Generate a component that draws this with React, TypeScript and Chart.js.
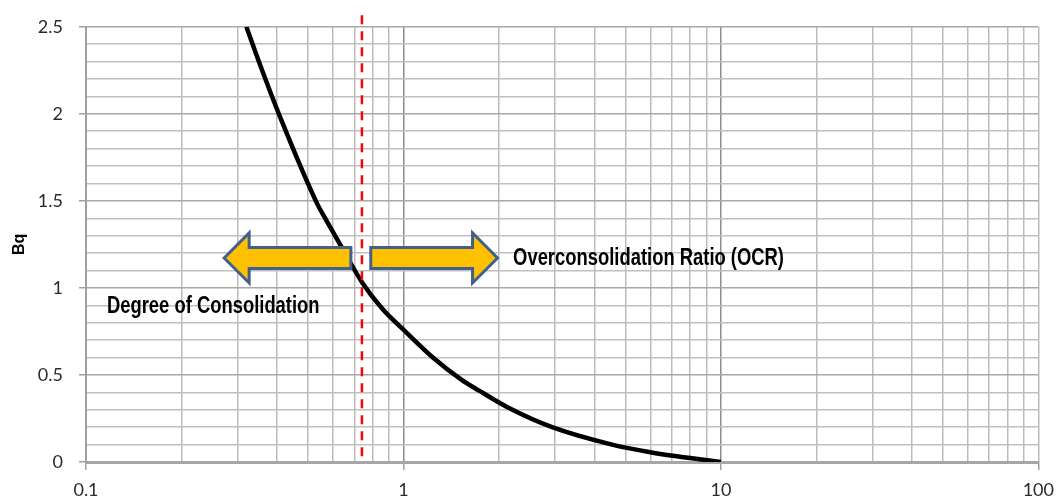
import React, { useEffect, useRef } from 'react';
import { Chart, registerables } from 'chart.js';

Chart.register(...registerables);

// Curve: Bq vs OCR
const ocrValues = [0.32, 0.357, 0.407, 0.536, 0.571, 0.636, 0.742, 0.858, 1.02, 1.23, 1.53, 1.73, 2.15, 2.94, 4.54, 6.05, 10];
const bqValues = [2.5, 2.26, 1.99, 1.48, 1.39, 1.24, 1.03, 0.88, 0.745, 0.605, 0.47, 0.41, 0.31, 0.2, 0.1, 0.055, 0];

// Axis ticks
const xTickValues = [0.1, 0.2, 0.3, 0.4, 0.5, 0.6, 0.7, 0.8, 0.9, 1, 2, 3, 4, 5, 6, 7, 8, 9, 10, 20, 30, 40, 50, 60, 70, 80, 90, 100];
const xLabelValues = [0.1, 1, 10, 100];
const yTickValues = [0, 0.1, 0.2, 0.3, 0.4, 0.5, 0.6, 0.7, 0.8, 0.9, 1, 1.1, 1.2, 1.3, 1.4, 1.5, 1.6, 1.7, 1.8, 1.9, 2, 2.1, 2.2, 2.3, 2.4, 2.5];
const yLabelValues = [0, 0.5, 1, 1.5, 2, 2.5];

// Cut-off (red dashed line)
const cutoffOCR = 0.74;
const cutoffTop = 2.566;

// Arrows (data units)
const arrowBq = 1.172;
const leftArrowTail = 0.683;
const leftArrowTip = 0.2724;
const rightArrowTail = 0.789;
const rightArrowTip = 1.979;

// Annotation texts (data units, left / baseline)
const degreeText = 'Degree of Consolidation';
const degreeX = 0.1164;
const degreeY = 0.854;
const ocrText = 'Overconsolidation Ratio (OCR)';
const ocrX = 2.215;
const ocrY = 1.132;

const isIn = (arr: number[], v: number) => arr.some((a) => Math.abs(a - v) < 1e-9);

const annotationPlugin = {
  id: 'annotations',
  afterDatasetsDraw(chart: any) {
    const ctx = chart.ctx as CanvasRenderingContext2D;
    const xs = chart.scales.x;
    const ys = chart.scales.y;
    const yc = ys.getPixelForValue(arrowBq);

    const drawArrow = (tailV: number, tipV: number) => {
      const xt = xs.getPixelForValue(tailV);
      const xp = xs.getPixelForValue(tipV);
      const dir = Math.sign(xp - xt);
      const headLen = 25;
      const bodyHalf = 10.5;
      const headHalf = 25;
      const xb = xp - dir * headLen;
      ctx.save();
      ctx.beginPath();
      ctx.moveTo(xt, yc - bodyHalf);
      ctx.lineTo(xb, yc - bodyHalf);
      ctx.lineTo(xb, yc - headHalf);
      ctx.lineTo(xp, yc);
      ctx.lineTo(xb, yc + headHalf);
      ctx.lineTo(xb, yc + bodyHalf);
      ctx.lineTo(xt, yc + bodyHalf);
      ctx.closePath();
      ctx.fillStyle = '#FFC000';
      ctx.fill();
      ctx.lineWidth = 3;
      ctx.lineJoin = 'miter';
      ctx.strokeStyle = '#41608C';
      ctx.stroke();
      ctx.restore();
    };
    drawArrow(leftArrowTail, leftArrowTip);
    drawArrow(rightArrowTail, rightArrowTip);

    const drawText = (text: string, xv: number, yv: number) => {
      ctx.save();
      ctx.translate(xs.getPixelForValue(xv), ys.getPixelForValue(yv));
      ctx.scale(0.8, 1);
      ctx.font = 'bold 23px "Liberation Sans", Arial, sans-serif';
      ctx.fillStyle = '#000000';
      ctx.textAlign = 'left';
      ctx.textBaseline = 'alphabetic';
      ctx.fillText(text, 0, 0);
      ctx.restore();
    };
    drawText(degreeText, degreeX, degreeY);
    drawText(ocrText, ocrX, ocrY);
  },
};

export default function App() {
  const canvasRef = useRef<HTMLCanvasElement | null>(null);

  useEffect(() => {
    document.body.style.margin = '0';
    const canvas = canvasRef.current;
    if (!canvas) return;

    const curve = ocrValues.map((x, i) => ({ x, y: bqValues[i] }));
    const cutoff = [
      { x: cutoffOCR, y: cutoffTop },
      { x: cutoffOCR, y: 0 },
    ];

    const chart = new Chart(canvas, {
      type: 'scatter',
      data: {
        datasets: [
          {
            data: cutoff,
            showLine: true,
            borderColor: '#FF0000',
            borderWidth: 2.5,
            borderDash: [9, 7],
            pointRadius: 0,
            clip: false as any,
          },
          {
            data: curve,
            showLine: true,
            borderColor: '#000000',
            borderWidth: 4.5,
            pointRadius: 0,
            cubicInterpolationMode: 'monotone',
          },
        ],
      },
      options: {
        responsive: false,
        animation: false,
        layout: { padding: { top: 21, right: 22, left: 0, bottom: 0 } },
        plugins: {
          legend: { display: false },
          tooltip: { enabled: false },
        },
        scales: {
          x: {
            type: 'logarithmic',
            min: 0.1,
            max: 100,
            afterBuildTicks: (scale: any) => {
              scale.ticks = xTickValues.map((v) => ({ value: v }));
            },
            afterFit: (scale: any) => {
              scale.height = 42;
            },
            ticks: {
              autoSkip: false,
              maxRotation: 0,
              padding: 9,
              color: '#2B2B2B',
              font: { family: 'Lato', size: 18 },
              callback: (v: any) => (isIn(xLabelValues, Number(v)) ? String(v) : ''),
            },
            grid: {
              color: (c: any) => (isIn([1, 10], c.tick?.value) ? '#8C8C8C' : '#BBBBBB'),
              lineWidth: 1.5,
              tickLength: 8,
              tickColor: (c: any) => (isIn(xLabelValues, c.tick?.value) ? '#A0A0A0' : 'rgba(0,0,0,0)'),
            },
            border: { display: true, color: '#A6A6A6', width: 3 },
          },
          y: {
            type: 'linear',
            min: 0,
            max: 2.5,
            afterBuildTicks: (scale: any) => {
              scale.ticks = yTickValues.map((v) => ({ value: v }));
            },
            afterFit: (scale: any) => {
              scale.width = 86;
            },
            title: {
              display: true,
              text: 'Bq',
              color: '#000000',
              font: { family: '"Liberation Sans", Arial, sans-serif', size: 16, weight: 'bold' },
              padding: { top: 10, bottom: 0 },
            },
            ticks: {
              autoSkip: false,
              padding: 16,
              color: '#2B2B2B',
              font: { family: 'Lato', size: 18 },
              callback: (v: any) => (isIn(yLabelValues, Number(v)) ? String(v) : ''),
            },
            grid: {
              color: (c: any) => (isIn(yLabelValues, c.tick?.value) ? '#A8A8A8' : '#C0C0C0'),
              lineWidth: 1.5,
              tickLength: 7,
              tickColor: (c: any) => (isIn(yLabelValues, c.tick?.value) ? '#A0A0A0' : 'rgba(0,0,0,0)'),
            },
            border: { display: true, color: '#A0A0A0', width: 2 },
          },
        },
      },
      plugins: [annotationPlugin],
    } as any);

    return () => chart.destroy();
  }, []);

  return (
    <div style={{ width: 1063, height: 504, background: '#ffffff' }}>
      <canvas ref={canvasRef} width={1063} height={504} style={{ display: 'block' }} />
    </div>
  );
}
